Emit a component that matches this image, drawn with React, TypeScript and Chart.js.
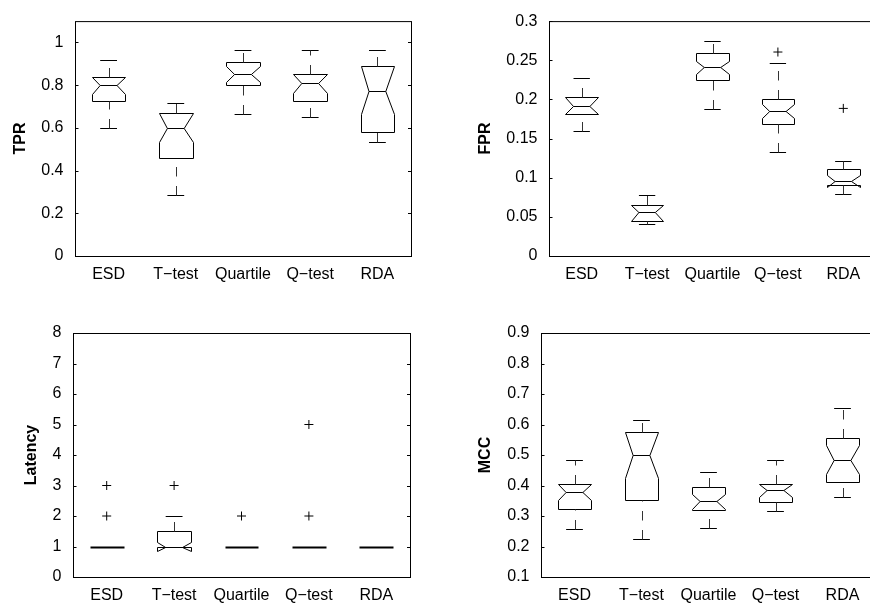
import React, { useEffect, useRef } from "react";
import { Chart, registerables } from "chart.js";

Chart.register(...registerables);

// Detection methods compared in every panel
const methods = ["ESD", "T\u2212test", "Quartile", "Q\u2212test", "RDA"];

// True positive rate
const tprLowerWhisker = [0.601, 0.285, 0.667, 0.651, 0.535];
const tprQ1 = [0.724, 0.46, 0.799, 0.724, 0.583];
const tprNotchLow = [0.757, 0.534, 0.813, 0.763, 0.667];
const tprMedian = [0.799, 0.601, 0.85, 0.808, 0.775];
const tprNotchHigh = [0.84, 0.67, 0.889, 0.85, 0.89];
const tprQ3 = [0.84, 0.67, 0.907, 0.85, 0.892];
const tprUpperWhisker = [0.916, 0.717, 0.964, 0.964, 0.964];
const tprOutliers: [string, number][] = [];

// False positive rate
const fprLowerWhisker = [0.1601, 0.0412, 0.1881, 0.1329, 0.0786];
const fprQ1 = [0.1815, 0.0449, 0.2251, 0.1691, 0.0905];
const fprNotchLow = [0.1815, 0.0449, 0.2329, 0.1765, 0.0875];
const fprMedian = [0.1922, 0.0564, 0.2412, 0.1852, 0.0955];
const fprNotchHigh = [0.203, 0.0654, 0.2494, 0.1938, 0.1035];
const fprQ3 = [0.2037, 0.0654, 0.2588, 0.2008, 0.1111];
const fprUpperWhisker = [0.2276, 0.0782, 0.2749, 0.2465, 0.1215];
const fprOutliers: [string, number][] = [
  ["Q\u2212test", 0.2605],
  ["RDA", 0.1885],
];

// Detection latency
const latLowerWhisker = [1, 1, 1, 1, 1];
const latQ1 = [1, 1, 1, 1, 1];
const latNotchLow = [1, 0.86, 1, 1, 1];
const latMedian = [1, 1, 1, 1, 1];
const latNotchHigh = [1, 1.16, 1, 1, 1];
const latQ3 = [1, 1.5, 1, 1, 1];
const latUpperWhisker = [1, 2, 1, 1, 1];
const latOutliers: [string, number][] = [
  ["ESD", 2],
  ["ESD", 3],
  ["T\u2212test", 3],
  ["Quartile", 2],
  ["Q\u2212test", 2],
  ["Q\u2212test", 5],
];

// Matthews correlation coefficient
const mccLowerWhisker = [0.256, 0.223, 0.26, 0.315, 0.361];
const mccQ1 = [0.323, 0.351, 0.321, 0.346, 0.412];
const mccNotchLow = [0.351, 0.424, 0.323, 0.363, 0.438];
const mccMedian = [0.378, 0.4995, 0.348, 0.384, 0.485];
const mccNotchHigh = [0.404, 0.574, 0.372, 0.405, 0.532];
const mccQ3 = [0.404, 0.574, 0.396, 0.406, 0.555];
const mccUpperWhisker = [0.484, 0.616, 0.445, 0.485, 0.654];
const mccOutliers: [string, number][] = [];

const FONT = '"Liberation Sans", Arial, Helvetica, sans-serif';
const FONT_SIZE = 16;
const INK = "#000";

type Stats = {
  lo: number[];
  q1: number[];
  nlo: number[];
  med: number[];
  nhi: number[];
  q3: number[];
  hi: number[];
};

type PanelSpec = {
  label: string;
  stats: Stats;
  outliers: [string, number][];
  min: number;
  max: number;
  step: number;
  pos: { left: number; top: number; w: number; h: number };
  area: { l: number; t: number; r: number; b: number };
  titleCenter: number;
};

const panels: PanelSpec[] = [
  {
    label: "TPR",
    stats: { lo: tprLowerWhisker, q1: tprQ1, nlo: tprNotchLow, med: tprMedian, nhi: tprNotchHigh, q3: tprQ3, hi: tprUpperWhisker },
    outliers: tprOutliers,
    min: 0,
    max: 1.1,
    step: 0.2,
    pos: { left: 0, top: 0, w: 435, h: 303 },
    area: { l: 75, t: 12, r: 411, b: 256 },
    titleCenter: 21,
  },
  {
    label: "FPR",
    stats: { lo: fprLowerWhisker, q1: fprQ1, nlo: fprNotchLow, med: fprMedian, nhi: fprNotchHigh, q3: fprQ3, hi: fprUpperWhisker },
    outliers: fprOutliers,
    min: 0,
    max: 0.3,
    step: 0.05,
    pos: { left: 435, top: 0, w: 470, h: 303 },
    area: { l: 114, t: 12, r: 441, b: 256 },
    titleCenter: 51,
  },
  {
    label: "Latency",
    stats: { lo: latLowerWhisker, q1: latQ1, nlo: latNotchLow, med: latMedian, nhi: latNotchHigh, q3: latQ3, hi: latUpperWhisker },
    outliers: latOutliers,
    min: 0,
    max: 8,
    step: 1,
    pos: { left: 0, top: 303, w: 435, h: 303 },
    area: { l: 73, t: 30, r: 410, b: 274 },
    titleCenter: 32,
  },
  {
    label: "MCC",
    stats: { lo: mccLowerWhisker, q1: mccQ1, nlo: mccNotchLow, med: mccMedian, nhi: mccNotchHigh, q3: mccQ3, hi: mccUpperWhisker },
    outliers: mccOutliers,
    min: 0.1,
    max: 0.9,
    step: 0.1,
    pos: { left: 435, top: 303, w: 470, h: 303 },
    area: { l: 106, t: 30, r: 441, b: 274 },
    titleCenter: 51,
  },
];

// Draws the axes frame, inward ticks and the notched boxes with dashed whiskers
function notchedBoxPlugin(stats: Stats) {
  return {
    id: "notchedBoxes",
    afterDatasetsDraw(chart: any) {
      const { ctx, chartArea: a, scales } = chart;
      const xs = scales.x;
      const ys = scales.y;
      const crisp = (v: number) => Math.round(v) + 0.5;
      const Y = (v: number) => crisp(ys.getPixelForValue(v));
      const seg = (x1: number, y1: number, x2: number, y2: number) => {
        ctx.beginPath();
        ctx.moveTo(x1, y1);
        ctx.lineTo(x2, y2);
        ctx.stroke();
      };

      ctx.save();
      ctx.strokeStyle = INK;
      ctx.lineWidth = 1;
      ctx.setLineDash([]);

      // frame
      ctx.strokeRect(a.left + 0.5, a.top + 0.5, a.right - a.left, a.bottom - a.top);

      // inward ticks on both vertical sides
      ys.ticks.forEach((t: any) => {
        const y = Y(t.value);
        seg(a.left, y, a.left + 3.5, y);
        seg(a.right - 3, y, a.right + 0.5, y);
      });

      const unit = xs.getPixelForValue(1) - xs.getPixelForValue(0);
      const half = unit * 0.25;
      const notch = unit * 0.125;
      const cap = unit * 0.125;

      stats.q1.forEach((_, i) => {
        const xc = xs.getPixelForValue(i);
        const L = crisp(xc - half);
        const R = crisp(xc + half);
        const nl = xc - notch;
        const nr = xc + notch;
        const flat = stats.q1[i] === stats.q3[i];

        ctx.setLineDash([]);
        ctx.strokeStyle = INK;
        ctx.lineWidth = flat ? 2 : 1;
        ctx.beginPath();
        ctx.moveTo(L, Y(stats.q1[i]));
        ctx.lineTo(L, Y(stats.nlo[i]));
        ctx.lineTo(nl, Y(stats.med[i]));
        ctx.lineTo(L, Y(stats.nhi[i]));
        ctx.lineTo(L, Y(stats.q3[i]));
        ctx.lineTo(R, Y(stats.q3[i]));
        ctx.lineTo(R, Y(stats.nhi[i]));
        ctx.lineTo(nr, Y(stats.med[i]));
        ctx.lineTo(R, Y(stats.nlo[i]));
        ctx.lineTo(R, Y(stats.q1[i]));
        ctx.closePath();
        ctx.stroke();
        ctx.lineWidth = 1;

        // median
        seg(nl, Y(stats.med[i]), nr, Y(stats.med[i]));

        // whisker caps
        seg(xc - cap, Y(stats.hi[i]), xc + cap, Y(stats.hi[i]));
        seg(xc - cap, Y(stats.lo[i]), xc + cap, Y(stats.lo[i]));

        // dashed whiskers, drawn upward from the lower end
        const xw = crisp(xc);
        ctx.strokeStyle = "#333";
        ctx.setLineDash([9.5, 9.5]);
        if (stats.hi[i] > stats.q3[i]) seg(xw, Y(stats.q3[i]), xw, Y(stats.hi[i]));
        if (stats.q1[i] > stats.lo[i]) seg(xw, Y(stats.lo[i]), xw, Y(stats.q1[i]));
      });

      ctx.restore();
    },
  };
}

function Panel({ spec }: { spec: PanelSpec }) {
  const ref = useRef<HTMLCanvasElement | null>(null);

  useEffect(() => {
    if (!ref.current) return;
    const { pos, area } = spec;
    const tickFont = { family: FONT, size: FONT_SIZE };
    const lineHalf = (FONT_SIZE * 1.2) / 2;

    const chart = new Chart(ref.current, {
      type: "scatter",
      data: {
        labels: methods,
        datasets: [
          {
            data: spec.outliers.map(([m, v]) => ({ x: m, y: v })) as any,
            pointStyle: "cross",
            pointRadius: 4.5,
            borderColor: INK,
            backgroundColor: INK,
            borderWidth: 1,
          },
        ],
      },
      options: {
        responsive: false,
        animation: false,
        events: [],
        layout: {
          padding: { left: 0, top: area.t, right: pos.w - area.r, bottom: 0 },
        },
        plugins: {
          legend: { display: false },
          tooltip: { enabled: false },
        },
        scales: {
          x: {
            type: "category",
            offset: true,
            grid: { display: false, drawTicks: false },
            border: { display: false },
            ticks: {
              font: tickFont,
              color: INK,
              padding: 9,
              maxRotation: 0,
              autoSkip: false,
            },
            afterFit: (s: any) => {
              s.height = pos.h - area.b;
            },
          },
          y: {
            type: "linear",
            min: spec.min,
            max: spec.max,
            grid: { display: false, drawTicks: false },
            border: { display: false },
            ticks: {
              stepSize: spec.step,
              includeBounds: false,
              font: tickFont,
              color: INK,
              padding: 11.5,
              callback: (v: any) => String(Math.round(Number(v) * 1000) / 1000),
            },
            title: {
              display: true,
              text: spec.label,
              color: INK,
              font: { family: FONT, size: FONT_SIZE, weight: "bold" },
              padding: { top: spec.titleCenter - lineHalf, bottom: 0 },
            },
            afterFit: (s: any) => {
              s.width = area.l;
            },
          },
        },
      } as any,
      plugins: [notchedBoxPlugin(spec.stats)],
    });

    return () => chart.destroy();
  }, [spec]);

  return (
    <canvas
      ref={ref}
      width={spec.pos.w}
      height={spec.pos.h}
      style={{
        position: "absolute",
        left: spec.pos.left,
        top: spec.pos.top,
        width: spec.pos.w,
        height: spec.pos.h,
      }}
    />
  );
}

export default function App() {
  return (
    <div
      style={{
        position: "fixed",
        left: 0,
        top: 0,
        width: 870,
        height: 606,
        overflow: "hidden",
        background: "#fff",
      }}
    >
      {panels.map((p) => (
        <Panel key={p.label} spec={p} />
      ))}
    </div>
  );
}
